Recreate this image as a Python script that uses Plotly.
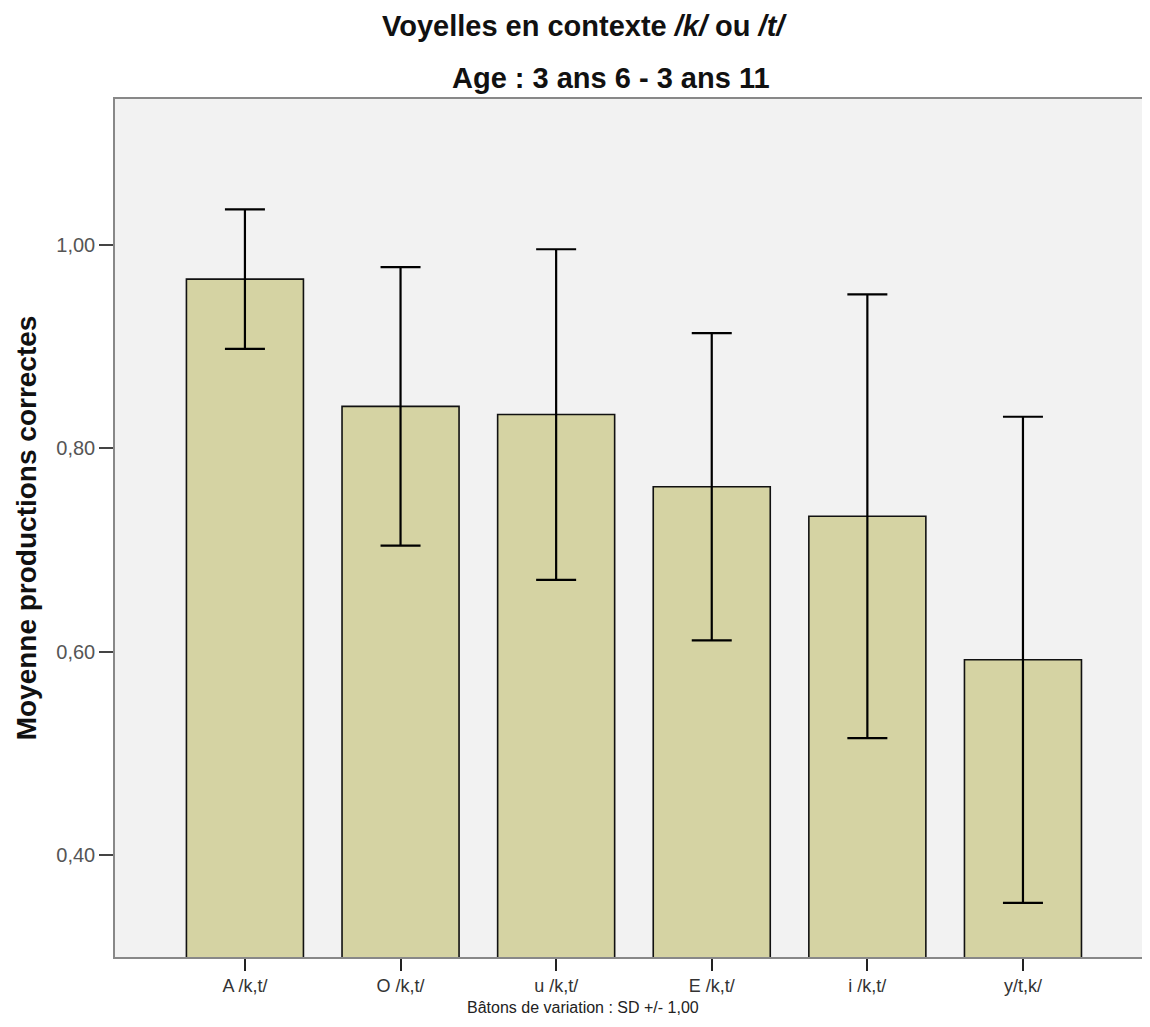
import plotly.graph_objects as go

categories = ["A /k,t/", "O /k,t/", "u /k,t/", "E /k,t/", "i /k,t/", "y/t,k/"]
means = [0.966, 0.841, 0.833, 0.762, 0.733, 0.592]
sds = [0.0686, 0.1368, 0.1624, 0.151, 0.218, 0.2388]
ytick_vals = [0.40, 0.60, 0.80, 1.00]

fig = go.Figure()
fig.add_trace(go.Bar(
    x=categories, y=means, width=0.752,
    marker=dict(color="#D5D3A3", line=dict(color="#111111", width=1.6)),
    error_y=dict(type="data", array=sds, visible=True, color="#000000",
                 thickness=2.2, width=20),
    showlegend=False,
))

PH = 858.0  # plot height in px
fig.update_layout(
    width=1134, height=1011,
    margin=dict(l=107, r=0, t=91, b=62),
    paper_bgcolor="white", plot_bgcolor="#F2F2F2",
    separators=",.",
    font=dict(family="Liberation Sans, Arial, sans-serif", color="#333333"),
    xaxis=dict(range=[-0.835, 5.765], showline=True, linecolor="#888888", linewidth=1.5,
               mirror=True, ticks="outside", ticklen=12, tickcolor="#222222", tickwidth=1.5,
               tickfont=dict(size=18, color="#333333"), showgrid=False, zeroline=False),
    yaxis=dict(range=[0.30, 1.143], tickvals=ytick_vals, tickformat=".2f",
               showline=True, linecolor="#888888", linewidth=1.5, ticks="outside",
               ticklen=14, tickcolor="#444444", tickwidth=1.5,
               tickfont=dict(size=20, color="#555555"), showgrid=False, zeroline=False,
               title=dict(text="<b>Moyenne productions correctes</b>",
                          font=dict(size=28, color="#111111"), standoff=12)),
    annotations=[
        dict(text="<b>Voyelles en contexte <i>/k/</i> ou <i>/t/</i></b>", xref="paper", yref="paper",
             x=0.4576, y=1.0 + (91 - 18) / PH, xanchor="center", yanchor="middle",
             showarrow=False, font=dict(size=29, color="#111111")),
        dict(text="<b>Age : 3 ans 6 - 3 ans 11</b>", xref="paper", yref="paper",
             x=0.483, y=1.0 + (91 - 70) / PH, xanchor="center", yanchor="middle",
             showarrow=False, font=dict(size=29, color="#111111")),
        dict(text="Bâtons de variation : SD +/- 1,00", xref="paper", yref="paper",
             x=0.456, y=-(1000 - 949) / PH, xanchor="center", yanchor="middle",
             showarrow=False, font=dict(size=16, color="#222222")),
    ],
)

fig.write_html("out.html")
